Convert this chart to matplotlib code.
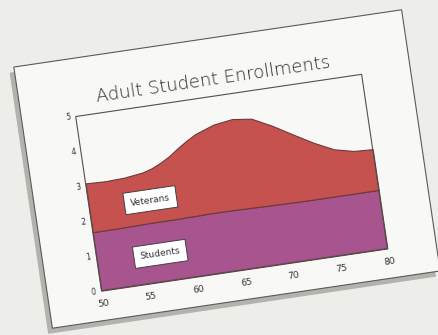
import matplotlib
matplotlib.use("Agg")
import matplotlib.pyplot as plt
from matplotlib.patches import Rectangle
from matplotlib.transforms import Affine2D

# values (stacked area chart)
years = [50, 52, 54, 56, 57, 58, 59, 60, 61, 62, 64, 66, 68, 70, 72, 74, 76, 78, 80]
students = [1.68, 1.68, 1.69, 1.70, 1.70, 1.70, 1.70, 1.71, 1.71, 1.72, 1.72, 1.71, 1.70, 1.69, 1.68, 1.68, 1.68, 1.68, 1.68]
veterans = [1.40, 1.38, 1.39, 1.45, 1.53, 1.65, 1.80, 1.98, 2.15, 2.29, 2.48, 2.57, 2.51, 2.24, 1.92, 1.60, 1.33, 1.20, 1.17]
x_ticks = [50, 55, 60, 65, 70, 75, 80]
x_tick_labels = ["50", "55", "60", "65", "70", "75", "80"]
y_ticks = [0, 1, 2, 3, 4, 5]
y_tick_labels = ["0", "1", "2", "3", "4", "5"]

angle = 8.4  # the card lies tilted on the table

fig = plt.figure(figsize=(4.38, 3.35), dpi=100, facecolor="#EDEDEA")
tilt = Affine2D().rotate_deg_around(227, 166, angle)

# the card and its shadow, in pixel coordinates before tilting
shadow = Rectangle((26, 29), 392, 264, transform=tilt, fc="#B5B1AC", ec="none", zorder=0)
card = Rectangle((31, 34), 392, 264, transform=tilt, fc="#F8F8F6", ec="#5a5a5a", lw=0.8, zorder=1)
fig.add_artist(shadow)
fig.add_artist(card)

fig.text(226, 256, "Adult Student Enrollments", transform=tilt, rotation=angle,
         rotation_mode="anchor", ha="center", va="center", fontsize=13,
         fontweight="light", color="#2e2e2e")

ax = fig.add_axes([85 / 438, 64 / 335, 289 / 438, 176 / 335])
ax.set_zorder(5)
ax.axis("off")
data_t = ax.transData + tilt

polys = ax.stackplot(years, students, veterans, colors=["#A8548F", "#C65250"],
                     edgecolor="#6b3a3a", linewidth=0.8)
for p in polys:
    p.set_transform(data_t)
    p.set_clip_on(False)

frame = Rectangle((50, 0), 30, 5, transform=data_t, fill=False, ec="#505050", lw=0.8, clip_on=False)
ax.add_patch(frame)

for xv, lab in zip(x_ticks, x_tick_labels):
    ax.text(xv, -0.38, lab, transform=data_t, rotation=angle, rotation_mode="anchor",
            ha="center", va="center", fontsize=6.5, color="#333333")
for yv, lab in zip(y_ticks, y_tick_labels):
    ax.text(49.2, yv, lab, transform=data_t, rotation=angle, rotation_mode="anchor",
            ha="center", va="center", fontsize=5.5, color="#333333")

box = dict(boxstyle="square,pad=0.7", fc="white", ec="#404040", lw=0.7)
ax.text(56.4, 2.34, "Veterans", transform=data_t, rotation=angle, rotation_mode="anchor",
        ha="center", va="center", fontsize=6.5, color="#333333", bbox=box)
ax.text(56.6, 0.79, "Students", transform=data_t, rotation=angle, rotation_mode="anchor",
        ha="center", va="center", fontsize=6.5, color="#333333", bbox=box)

ax.set_xlim(50, 80)
ax.set_ylim(0, 5)

fig.savefig("out.png", dpi=100, facecolor=fig.get_facecolor())
